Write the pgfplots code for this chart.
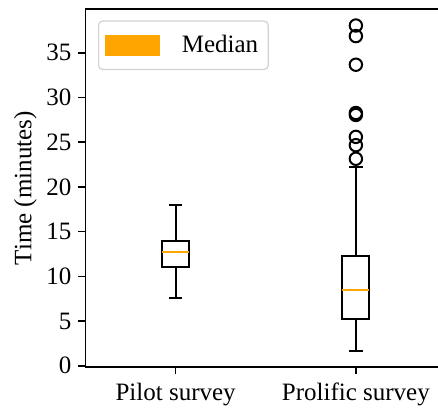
\documentclass[border=0pt]{standalone}
\usepackage{pgfplots}
\pgfplotsset{compat=1.18}
\usepgfplotslibrary{statistics}
\usepackage{fontspec}
\setmainfont{Liberation Serif}
\definecolor{mplorange}{HTML}{FFA500}
\newcommand\ff{\fontsize{12.5pt}{15pt}\selectfont}
\begin{document}
\begin{tikzpicture}
\begin{axis}[
  at={(0,0)}, anchor=south west,
  scale only axis, width=180.25pt, height=179.15pt,
  xmin=0.5, xmax=2.5, ymin=-0.17, ymax=39.9,
  xtick={1,2}, xticklabels={Pilot survey, Prolific survey},
  ytick={0,5,...,35},
  xtick pos=bottom, ytick pos=left,
  tick align=outside, major tick length=3.5pt,
  tick style={black, line width=0.8pt},
  axis line style={line width=0.9pt},
  /pgf/number format/assume math mode=true,
  tick label style={font=\ff},
  label style={font=\ff},
  ylabel={Time (minutes)},
  ylabel style={yshift=-2pt},
  xticklabel style={yshift=-1pt},
  legend style={at={(0.0347,0.968)}, anchor=north west, font=\ff,
    draw=black!18, rounded corners=2pt, line width=0.6pt,
    inner xsep=3pt, inner ysep=5pt},
  legend cell align=left,
  boxplot/draw direction=y,
  boxplot/box extend=0.15,
  boxplot/whisker extend=0.075,
  boxplot/every box/.style={draw=black, line width=1pt},
  boxplot/every whisker/.style={draw=black, line width=1pt},
  boxplot/every median/.style={draw=mplorange, line width=1pt},
]
\addplot+[black, mark=none, forget plot,
  boxplot prepared={draw position=1, lower whisker=7.6, lower quartile=11.1,
    median=12.78, upper quartile=14.0, upper whisker=18.0}]
  coordinates {};
\addplot+[black, mark=o, mark size=3.1pt, mark options={line width=1pt, draw=black, fill=none}, forget plot,
  boxplot prepared={draw position=2, lower whisker=1.7, lower quartile=5.27,
    median=8.5, upper quartile=12.33, upper whisker=22.25}]
  table[row sep=\\, y index=0] {data\\38.05\\36.87\\33.67\\28.27\\28.05\\25.6\\24.67\\23.15\\};
\addlegendimage{legend image code/.code={\fill[mplorange, sharp corners] (0pt,-4.85pt) rectangle (27pt,4.85pt); \path (36pt,0pt);}}
\addlegendentry{Median}
\end{axis}
\pgfresetboundingbox
\useasboundingbox (-42.75pt,-20.85pt) rectangle (176.25pt,183.65pt);
\end{tikzpicture}
\end{document}
